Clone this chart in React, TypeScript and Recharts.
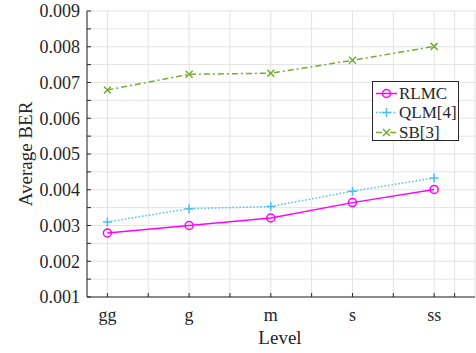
import { LineChart, Line, XAxis, YAxis, CartesianGrid } from "recharts";

const LEVELS = ["gg", "g", "m", "s", "ss"];
const RLMC = [0.00279, 0.003, 0.00321, 0.00364, 0.00401];
const QLM = [0.0031, 0.00347, 0.00353, 0.00396, 0.00433];
const SB = [0.00679, 0.00723, 0.00726, 0.00762, 0.00801];

const X_TICKS = [1, 1.5, 2, 2.5, 3, 3.5, 4, 4.5, 5, 5.25];
const Y_TICKS = [
  0.001, 0.0015, 0.002, 0.0025, 0.003, 0.0035, 0.004, 0.0045, 0.005, 0.0055,
  0.006, 0.0065, 0.007, 0.0075, 0.008, 0.0085, 0.009,
];

const data = LEVELS.map((name, i) => ({
  x: i + 1,
  name,
  rlmc: RLMC[i],
  qlm: QLM[i],
  sb: SB[i],
}));

const FONT = "'Liberation Serif', 'Times New Roman', serif";
const AXIS = "#262626";

const SERIES = [
  { key: "rlmc", label: "RLMC", color: "#ff00ff", dash: undefined, marker: "o" },
  { key: "qlm", label: "QLM[4]", color: "#4dbeee", dash: "1.5 2", marker: "+" },
  { key: "sb", label: "SB[3]", color: "#77ac30", dash: "6 3 2 3", marker: "x" },
];

function Marker({ cx, cy, kind, color }: { cx: number; cy: number; kind: string; color: string }) {
  if (kind === "o")
    return <circle cx={cx} cy={cy} r={4} fill="none" stroke={color} strokeWidth={1.5} />;
  if (kind === "+")
    return (
      <path
        d={`M${cx - 4.5},${cy}H${cx + 4.5}M${cx},${cy - 4.5}V${cy + 4.5}`}
        stroke={color}
        strokeWidth={1.5}
      />
    );
  return (
    <path
      d={`M${cx - 3.5},${cy - 3.5}L${cx + 3.5},${cy + 3.5}M${cx - 3.5},${cy + 3.5}L${cx + 3.5},${cy - 3.5}`}
      stroke={color}
      strokeWidth={1.5}
    />
  );
}

function XTick({ x, y, payload }: any) {
  const v = payload.value;
  if (!Number.isInteger(v)) return <g />;
  return (
    <text x={x} y={y} dy="0.71em" textAnchor="middle" fill={AXIS} fontSize={18} fontFamily={FONT}>
      {LEVELS[v - 1]}
    </text>
  );
}

function YTick({ x, y, payload }: any) {
  const v = payload.value;
  if (Math.round(v * 2000) % 2 !== 0) return <g />;
  return (
    <text x={x} y={y} dy="0.35em" textAnchor="end" fill={AXIS} fontSize={18} fontFamily={FONT}>
      {v.toFixed(3)}
    </text>
  );
}

export default function App() {
  return (
    <div
      style={{
        position: "absolute",
        left: 0,
        top: 0,
        width: 476,
        height: 353,
        background: "#fff",
        fontFamily: FONT,
      }}
    >
      <LineChart
        width={476}
        height={353}
        data={data}
        margin={{ top: 11, right: 1, bottom: 0, left: 0 }}
      >
        <CartesianGrid stroke="#e3e3e3" strokeWidth={1} />
        <XAxis
          dataKey="x"
          type="number"
          domain={[0.75, 5.5]}
          ticks={X_TICKS}
          interval={0}
          height={56}
          tickSize={-4}
          tickMargin={15}
          stroke={AXIS}
          tick={<XTick />}
          label={{
            content: () => (
              <text x={280} y={344} textAnchor="middle" fill={AXIS} fontSize={19} fontFamily={FONT}>
                Level
              </text>
            ),
          }}
        />
        <YAxis
          type="number"
          domain={[0.001, 0.009]}
          ticks={Y_TICKS}
          interval={0}
          width={87}
          tickSize={-4}
          tickMargin={11}
          stroke={AXIS}
          tick={<YTick />}
          label={{
            content: () => (
              <text
                x={25}
                y={154}
                transform="rotate(-90 25 154)"
                textAnchor="middle"
                dominantBaseline="central"
                fill={AXIS}
                fontSize={19}
                fontFamily={FONT}
              >
                Average BER
              </text>
            ),
          }}
        />
        {SERIES.map((s) => (
          <Line
            key={s.key}
            type="linear"
            dataKey={s.key}
            stroke={s.color}
            strokeWidth={1.5}
            strokeDasharray={s.dash}
            isAnimationActive={false}
            dot={(p: any) => (
              <Marker key={`${s.key}-${p.index}`} cx={p.cx} cy={p.cy} kind={s.marker} color={s.color} />
            )}
            activeDot={false}
          />
        ))}
      </LineChart>
      <div
        style={{
          position: "absolute",
          left: 372,
          top: 81,
          width: 85,
          height: 58,
          border: `1px solid ${AXIS}`,
          background: "#fff",
          fontFamily: FONT,
          fontSize: 17,
          color: AXIS,
        }}
      >
        {SERIES.map((s, i) => (
          <div
            key={s.key}
            style={{ position: "absolute", left: 2, top: 2 + i * 19.3, height: 19, display: "flex", alignItems: "center" }}
          >
            <svg width={23} height={19}>
              <line x1={1} y1={9.5} x2={22} y2={9.5} stroke={s.color} strokeWidth={1.5} strokeDasharray={s.dash} />
              <Marker cx={11.5} cy={9.5} kind={s.marker} color={s.color} />
            </svg>
            <span style={{ marginLeft: 1, lineHeight: "19px" }}>{s.label}</span>
          </div>
        ))}
      </div>
    </div>
  );
}
